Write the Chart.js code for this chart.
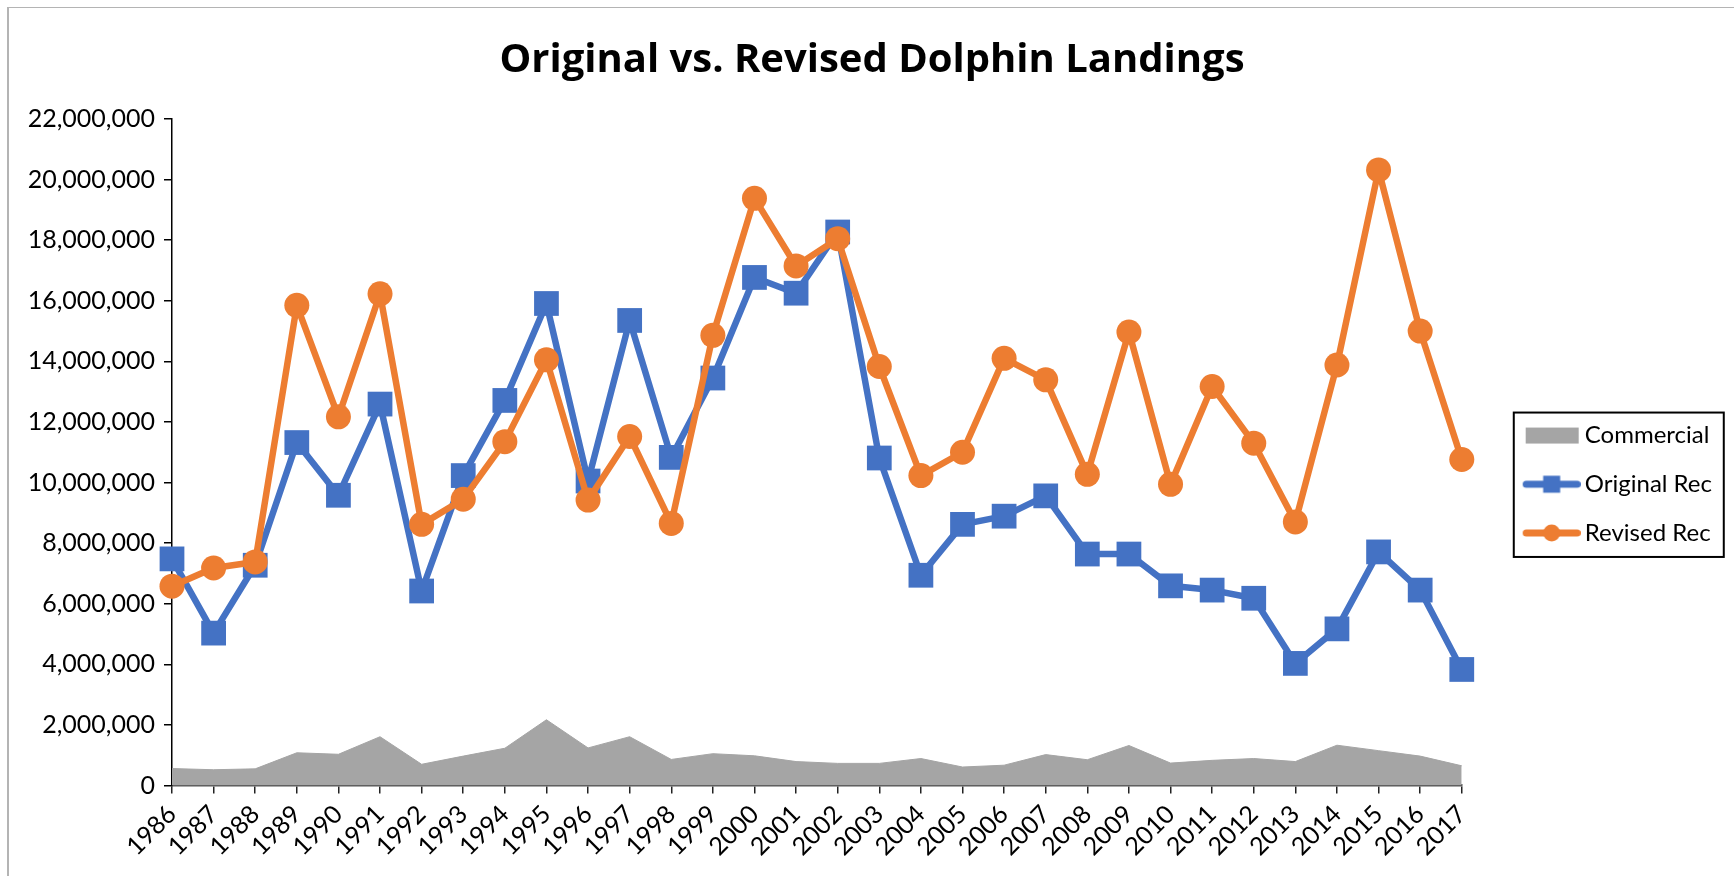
<!DOCTYPE html>
<html>
<head>
<meta charset="utf-8">
<title>Original vs. Revised Dolphin Landings</title>
<script src="https://cdn.jsdelivr.net/npm/chart.js@4.4.1/dist/chart.umd.min.js"></script>
<style>
  html, body { margin: 0; padding: 0; background: #fff; }
  #wrap { position: relative; width: 1734px; height: 876px; overflow: hidden; }
  #frame { position: absolute; left: 7px; top: 7px; width: 2000px; height: 2000px;
           border-left: 2px solid #b4b4b4; border-top: 1px solid #b4b4b4; }
  #chart { position: absolute; left: 0; top: 0; }
</style>
</head>
<body>
<div id="wrap">
  <div id="frame"></div>
  <canvas id="chart" width="1734" height="876"></canvas>
</div>
<script>
const years = ['1986', '1987', '1988', '1989', '1990', '1991', '1992', '1993', '1994', '1995',
  '1996', '1997', '1998', '1999', '2000', '2001', '2002', '2003', '2004', '2005', '2006',
  '2007', '2008', '2009', '2010', '2011', '2012', '2013', '2014', '2015', '2016', '2017'];

const commercial = [560000, 520000, 550000, 1080000, 1030000, 1610000, 700000, 970000, 1230000, 2170000,
  1240000, 1610000, 860000, 1050000, 980000, 790000, 730000, 730000, 890000, 610000, 670000,
  1020000, 850000, 1320000, 740000, 830000, 890000, 790000, 1330000, 1150000, 970000, 650000];

const originalRec = [7480000, 5030000, 7270000, 11320000, 9580000, 12590000, 6420000, 10230000, 12710000, 15910000,
  10050000, 15350000, 10830000, 13450000, 16770000, 16250000, 18270000, 10810000, 6940000, 8620000, 8890000,
  9560000, 7640000, 7640000, 6590000, 6450000, 6180000, 4030000, 5170000, 7710000, 6450000, 3830000];

const revisedRec = [6580000, 7180000, 7380000, 15850000, 12170000, 16230000, 8620000, 9450000, 11350000, 14050000,
  9420000, 11520000, 8650000, 14860000, 19380000, 17150000, 18050000, 13830000, 10230000, 11000000, 14100000,
  13390000, 10270000, 14970000, 9940000, 13170000, 11300000, 8700000, 13880000, 20320000, 15000000, 10760000];

const yMax = 22000000;
const yStep = 2000000;

const GRAY = '#a5a5a5';
const BLUE = '#4472c4';
const ORANGE = '#ed7d31';

Chart.defaults.font.family = "Lato, 'Open Sans', sans-serif";
Chart.defaults.color = '#000';

// legend symbols in the Excel style: line with a marker in the middle
function legendIcon(kind, color) {
  const c = document.createElement('canvas');
  c.width = 102;
  c.height = 24;
  const g = c.getContext('2d');
  const x0 = c.width - 58;
  if (kind === 'area') {
    g.fillStyle = color;
    g.fillRect(x0 + 3, 4, 53, 16);
    return c;
  }
  g.strokeStyle = color;
  g.lineWidth = 7;
  g.lineCap = 'round';
  g.beginPath();
  g.moveTo(x0 + 3.5, 12);
  g.lineTo(c.width - 3.5, 12);
  g.stroke();
  g.fillStyle = color;
  const cx = x0 + 29;
  if (kind === 'rect') {
    g.fillRect(cx - 8.5, 3.5, 17, 17);
  } else {
    g.beginPath();
    g.arc(cx, 12, 8.5, 0, Math.PI * 2);
    g.fill();
  }
  return c;
}
const legendIcons = [legendIcon('area', GRAY), legendIcon('rect', BLUE), legendIcon('circle', ORANGE)];

const legendFrame = {
  id: 'legendFrame',
  afterDraw(chart) {
    const lg = chart.legend;
    const boxes = lg.legendHitBoxes;
    if (!boxes || !boxes.length) return;
    const last = boxes[boxes.length - 1];
    const top = boxes[0].top - 11;
    const bottom = last.top + last.height + 12;
    const ctx = chart.ctx;
    ctx.save();
    ctx.strokeStyle = '#000';
    ctx.lineWidth = 2;
    ctx.strokeRect(lg.left + 52, top, 210, bottom - top);
    ctx.restore();
  }
};

new Chart(document.getElementById('chart'), {
  type: 'line',
  data: {
    labels: years,
    datasets: [{
      label: 'Commercial',
      data: commercial,
      order: 3,
      fill: 'origin',
      backgroundColor: GRAY,
      borderColor: GRAY,
      borderWidth: 1,
      pointRadius: 0,
      tension: 0
    }, {
      label: 'Original Rec',
      data: originalRec,
      order: 2,
      borderColor: BLUE,
      backgroundColor: BLUE,
      borderWidth: 6.5,
      borderJoinStyle: 'round',
      pointStyle: 'rect',
      pointRadius: 17.5,
      pointBorderWidth: 0,
      pointBackgroundColor: BLUE,
      tension: 0,
      clip: false
    }, {
      label: 'Revised Rec',
      data: revisedRec,
      order: 1,
      borderColor: ORANGE,
      backgroundColor: ORANGE,
      borderWidth: 6.5,
      borderJoinStyle: 'round',
      pointStyle: 'circle',
      pointRadius: 12.5,
      pointBorderWidth: 0,
      pointBackgroundColor: ORANGE,
      tension: 0,
      clip: false
    }]
  },
  options: {
    responsive: false,
    animation: false,
    events: [],
    layout: { padding: { left: 22, right: 12, top: 0, bottom: 0 } },
    scales: {
      x: {
        offset: false,
        grid: { display: true, drawOnChartArea: false, drawTicks: true, tickLength: 8, color: '#222', lineWidth: 1.5 },
        border: { display: true, color: '#555', width: 2.5 },
        ticks: { autoSkip: false, maxRotation: 45, minRotation: 45, padding: 6, font: { size: 25 }, color: '#000' },
        afterFit(scale) { scale.height = 90.5; }
      },
      y: {
        min: 0,
        max: yMax,
        grid: { display: true, drawOnChartArea: false, drawTicks: true, tickLength: 8, color: '#000', lineWidth: 1.5 },
        border: { display: true, color: '#000', width: 1.5 },
        ticks: {
          stepSize: yStep,
          padding: 9,
          font: { size: 25 },
          color: '#000',
          callback: v => v.toLocaleString('en-US')
        },
        afterFit(scale) { scale.width = 150; }
      }
    },
    plugins: {
      title: {
        display: true,
        text: 'Original vs. Revised Dolphin Landings',
        color: '#000',
        font: { family: "'Open Sans', Lato, sans-serif", size: 40, weight: 'bold', lineHeight: 1.2 },
        padding: { top: 37, bottom: 34 }
      },
      legend: {
        position: 'right',
        fullSize: false,
        title: { display: true, text: '', padding: { top: 52, bottom: 0 }, font: { size: 10, lineHeight: 1.2 } },
        labels: {
          usePointStyle: true,
          pointStyleWidth: 86.3,
          padding: 24.7,
          color: '#000',
          font: { size: 24 },
          sort: (a, b) => a.datasetIndex - b.datasetIndex,
          generateLabels(chart) {
            const items = Chart.defaults.plugins.legend.labels.generateLabels(chart);
            items.forEach(it => { it.pointStyle = legendIcons[it.datasetIndex]; });
            return items;
          }
        }
      },
      tooltip: { enabled: false }
    }
  },
  plugins: [legendFrame]
});
</script>
</body>
</html>
